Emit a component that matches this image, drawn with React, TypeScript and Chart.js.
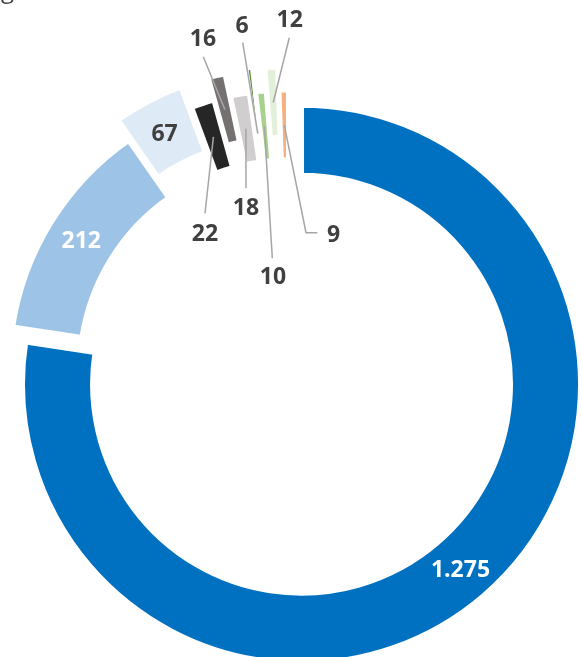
import React, { useEffect, useRef } from "react";
import { Chart, registerables } from "chart.js";

Chart.register(...registerables);

// ---- data ----
const categories = ["S1", "S2", "S3", "S4", "S5", "S6", "S7", "S8", "S9", "S10"];
const values = [1275, 212, 67, 22, 16, 18, 6, 10, 12, 9];

// ---- styles ----
const colors = [
  "#0070C0",
  "#9DC3E6",
  "#DEEBF7",
  "#262626",
  "#767171",
  "#D0CECE",
  "#548235",
  "#A9D18E",
  "#E2F0D9",
  "#F4B183",
];
// radial explosion of each slice (px)
const explode = [20, 0, 23, 0, 23, 0, 25, 0, 23, 0];
// label colours for labels drawn inside slices
const insideLabelColor = ["#FFFFFF", "#FFFFFF", "#404040"];
// outside labels: text centre relative to the chart centre
const outsideLabelPos: Record<number, [number, number]> = {
  3: [-83.5, -136],
  4: [-85.5, -331],
  5: [-42.5, -162.3],
  6: [-46.5, -344.5],
  7: [-15.5, -93.3],
  8: [1.2, -350],
  9: [45, -135.3],
};
// leader line end points (relative to chart centre); several points = polyline
const leaderEnds: Record<number, [number, number][]> = {
  3: [[-83.5, -155.7]],
  4: [[-85.2, -312.3]],
  5: [[-42.5, -180.7]],
  6: [[-45.8, -326.3]],
  7: [[-16.2, -110.7]],
  8: [[0.8, -331.3]],
  9: [[28.8, -136.3], [17.5, -136.3]],
};
// where the leader line starts inside the slice (0 = inner edge, 1 = outer edge)
const leaderFrom: Record<number, number> = { 6: 0.05 };

const TEXT_DARK = "#404040";
const FONT = "'Open Sans', 'DejaVu Sans', sans-serif";
const FONT_SIZE = 23;

function fmt(v: number): string {
  return String(v).replace(/\B(?=(\d{3})+(?!\d))/g, ".");
}

const explodePlugin = {
  id: "explodeLabels",
  beforeDatasetDraw(chart: any, args: any) {
    const ctx = chart.ctx;
    args.meta.data.forEach((arc: any, i: number) => {
      const d = explode[i] || 0;
      const mid = (arc.startAngle + arc.endAngle) / 2;
      ctx.save();
      ctx.translate(Math.cos(mid) * d, Math.sin(mid) * d);
      arc.draw(ctx);
      ctx.restore();
    });
    return false;
  },
  afterDatasetsDraw(chart: any) {
    const ctx = chart.ctx;
    const meta = chart.getDatasetMeta(0);
    const arcs = meta.data;
    if (!arcs.length) return;
    const cx = arcs[0].x;
    const cy = arcs[0].y;
    ctx.save();
    // leader lines
    ctx.strokeStyle = "#A6A6A6";
    ctx.lineWidth = 1.5;
    arcs.forEach((arc: any, i: number) => {
      const ends = leaderEnds[i];
      if (!ends) return;
      const d = explode[i] || 0;
      const mid = (arc.startAngle + arc.endAngle) / 2;
      const f = leaderFrom[i] ?? 0.5;
      const r = arc.innerRadius + (arc.outerRadius - arc.innerRadius) * f + d;
      ctx.beginPath();
      ctx.moveTo(cx + Math.cos(mid) * r, cy + Math.sin(mid) * r);
      for (let k = ends.length - 1; k >= 0; k--) {
        ctx.lineTo(cx + ends[k][0], cy + ends[k][1]);
      }
      ctx.stroke();
    });
    // labels
    ctx.font = `bold ${FONT_SIZE}px ${FONT}`;
    ctx.textAlign = "center";
    ctx.textBaseline = "alphabetic";
    const capHalf = FONT_SIZE * 0.357;
    arcs.forEach((arc: any, i: number) => {
      const text = fmt(values[i]);
      let x: number;
      let y: number;
      if (outsideLabelPos[i]) {
        x = cx + outsideLabelPos[i][0];
        y = cy + outsideLabelPos[i][1];
        ctx.fillStyle = TEXT_DARK;
      } else {
        const d = explode[i] || 0;
        const mid = (arc.startAngle + arc.endAngle) / 2;
        const r = (arc.innerRadius + arc.outerRadius) / 2 + d;
        x = cx + Math.cos(mid) * r;
        y = cy + Math.sin(mid) * r;
        ctx.fillStyle = insideLabelColor[i] || TEXT_DARK;
      }
      ctx.fillText(text, x, y + capHalf);
    });
    // cropped title fragment at the very top
    ctx.font = `24px ${FONT}`;
    ctx.textAlign = "left";
    ctx.fillStyle = TEXT_DARK;
    ctx.fillText("g", 1, -2.5);
    ctx.restore();
  },
};

export default function App() {
  const ref = useRef<HTMLCanvasElement | null>(null);
  useEffect(() => {
    if (!ref.current) return;
    const chart = new Chart(ref.current, {
      type: "doughnut",
      data: {
        labels: categories,
        datasets: [
          {
            data: values,
            backgroundColor: colors,
            borderColor: "#FFFFFF",
            borderWidth: 5,
          },
        ],
      },
      options: {
        responsive: false,
        animation: false,
        radius: 279,
        cutout: "74.9%",
        layout: { padding: { left: 0, right: 5, top: 81, bottom: 0 } },
        plugins: {
          legend: { display: false },
          tooltip: { enabled: false },
          title: { display: false },
        },
        events: [],
      } as any,
      plugins: [explodePlugin as any],
    });
    let alive = true;
    const fonts: any = (document as any).fonts;
    if (fonts && fonts.load) {
      Promise.all([
        fonts.load(`bold ${FONT_SIZE}px 'Open Sans'`),
        fonts.load(`24px 'Open Sans'`),
      ])
        .then(() => {
          if (alive) chart.update();
        })
        .catch(() => {});
    }
    return () => {
      alive = false;
      chart.destroy();
    };
  }, []);
  return (
    <div style={{ position: "absolute", left: 0, top: 0, width: 582, height: 657, background: "#fff" }}>
      <canvas ref={ref} width={582} height={657} style={{ width: 582, height: 657, display: "block" }} />
    </div>
  );
}
